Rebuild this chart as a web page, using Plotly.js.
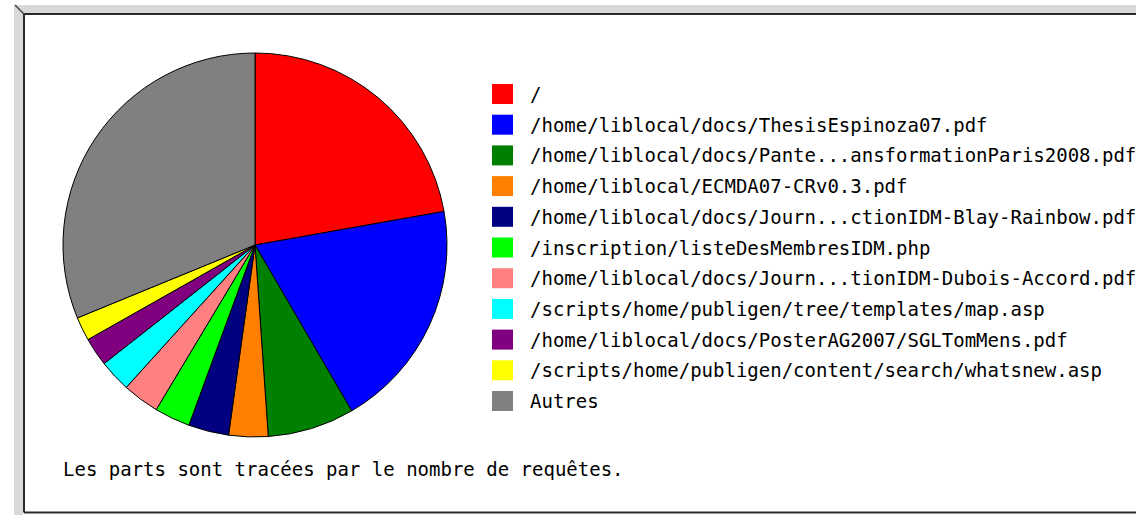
<!DOCTYPE html>
<html>
<head>
<meta charset="utf-8">
<script src="https://cdn.plot.ly/plotly-3.0.1.min.js"></script>
<style>
  html, body { margin: 0; padding: 0; background: #ffffff; }
  #chart { width: 1136px; height: 515px; }
</style>
</head>
<body>
<div id="chart"></div>
<script>
// ---- data (share of requests in %) ----
const labels = [
  "/",
  "/home/liblocal/docs/ThesisEspinoza07.pdf",
  "/home/liblocal/docs/Pante...ansformationParis2008.pdf",
  "/home/liblocal/ECMDA07-CRv0.3.pdf",
  "/home/liblocal/docs/Journ...ctionIDM-Blay-Rainbow.pdf",
  "/inscription/listeDesMembresIDM.php",
  "/home/liblocal/docs/Journ...tionIDM-Dubois-Accord.pdf",
  "/scripts/home/publigen/tree/templates/map.asp",
  "/home/liblocal/docs/PosterAG2007/SGLTomMens.pdf",
  "/scripts/home/publigen/content/search/whatsnew.asp",
  "Autres"
];
const values = [22.2, 19.4, 7.3, 3.3, 3.4, 3.0, 3.1, 2.7, 2.4, 2.0, 31.2];
const colors = [
  "#ff0000", "#0000ff", "#008000", "#ff8000", "#000080",
  "#00ff00", "#ff8080", "#00ffff", "#800080", "#ffff00", "#808080"
];
const footnote = "Les parts sont tracées par le nombre de requêtes.";

// ---- layout helpers (pixel -> paper, margins are 0) ----
const W = 1136, H = 515;
const px = x => x / W;
const py = y => 1 - y / H;
const FONT = { family: "DejaVu Sans Mono, Liberation Mono, monospace", size: 19, color: "#000000" };

const shapes = [
  // frame: light grey bevel bands
  { type: "rect", xref: "paper", yref: "paper", x0: px(14), x1: px(23), y0: py(5), y1: py(515), fillcolor: "#d9d9d9", line: { width: 0 } },
  { type: "rect", xref: "paper", yref: "paper", x0: px(14), x1: px(1136), y0: py(5), y1: py(13), fillcolor: "#d9d9d9", line: { width: 0 } },
  // dark inner lines
  { type: "line", xref: "paper", yref: "paper", x0: px(24), x1: px(24), y0: py(14), y1: py(512.5), line: { color: "#2a2a2a", width: 2 } },
  { type: "line", xref: "paper", yref: "paper", x0: px(24), x1: px(1136), y0: py(14), y1: py(14), line: { color: "#2a2a2a", width: 2 } },
  { type: "line", xref: "paper", yref: "paper", x0: px(24), x1: px(1136), y0: py(512.5), y1: py(512.5), line: { color: "#2a2a2a", width: 2 } },
  { type: "line", xref: "paper", yref: "paper", x0: px(15), x1: px(24), y0: py(5), y1: py(14), line: { color: "#444444", width: 1.5 } }
];
const annotations = [];

// custom legend built from the arrays
const legX = 492, legY0 = 94, legStep = 30.7, sq = 20;
labels.forEach((lab, i) => {
  const yc = legY0 + i * legStep;
  shapes.push({
    type: "rect", xref: "paper", yref: "paper",
    x0: px(legX), x1: px(legX + sq + 1), y0: py(yc - sq / 2), y1: py(yc + sq / 2),
    fillcolor: colors[i], line: { width: 0 }
  });
  annotations.push({
    xref: "paper", yref: "paper", x: px(528), y: py(yc),
    xanchor: "left", yanchor: "middle", showarrow: false,
    text: lab, font: FONT
  });
});
annotations.push({
  xref: "paper", yref: "paper", x: px(61), y: py(469),
  xanchor: "left", yanchor: "middle", showarrow: false,
  text: footnote, font: FONT
});

const cx = 255, cy = 245, r = 192;
const trace = {
  type: "pie",
  labels: labels,
  values: values,
  sort: false,
  direction: "clockwise",
  rotation: 0,
  textinfo: "none",
  hoverinfo: "label+value",
  marker: { colors: colors, line: { color: "#000000", width: 1 } },
  domain: { x: [px(cx - r), px(cx + r)], y: [py(cy + r), py(cy - r)] },
  showlegend: false
};

const layout = {
  width: W, height: H,
  margin: { l: 0, r: 0, t: 0, b: 0, pad: 0 },
  paper_bgcolor: "#ffffff",
  plot_bgcolor: "#ffffff",
  showlegend: false,
  shapes: shapes,
  annotations: annotations,
  font: FONT
};

Plotly.newPlot("chart", [trace], layout, { staticPlot: true, displayModeBar: false });
</script>
</body>
</html>
